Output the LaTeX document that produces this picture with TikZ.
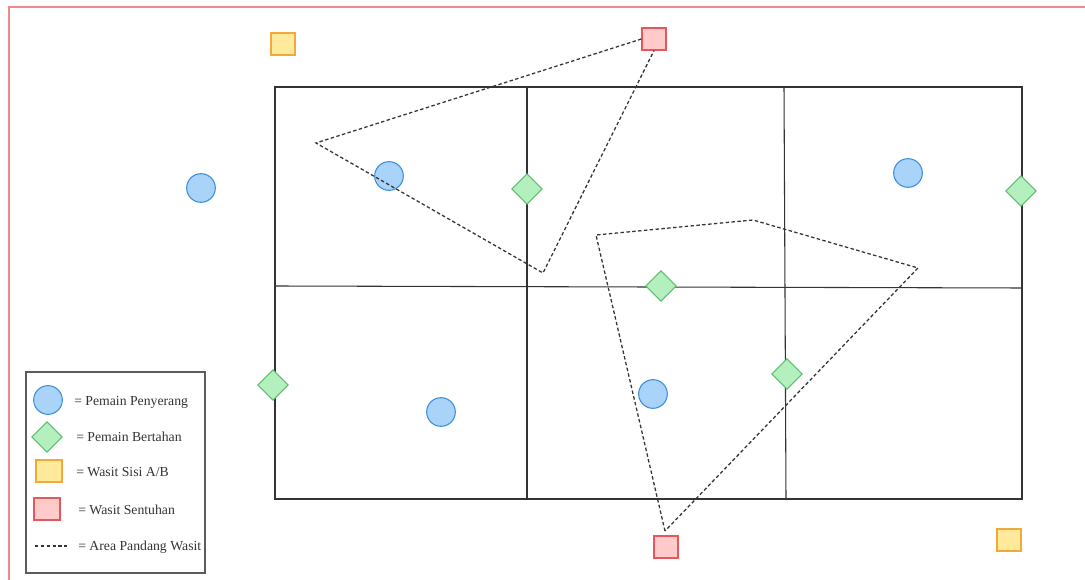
\documentclass[tikz,border=0pt]{standalone}
\usepackage{fontspec}
\setmainfont{Liberation Serif}
\usepackage{xcolor}
\definecolor{BlueFill}{HTML}{A9D3F8}
\definecolor{BlueLine}{HTML}{3B8EDB}
\definecolor{GreenFill}{HTML}{B4F0BE}
\definecolor{GreenLine}{HTML}{5BBE6A}
\definecolor{YellowFill}{HTML}{FFE99B}
\definecolor{YellowLine}{HTML}{F5A83A}
\definecolor{RedFill}{HTML}{FFCACA}
\definecolor{RedLine}{HTML}{E8555A}
\definecolor{Frame}{HTML}{F08A8A}
\definecolor{Dark}{HTML}{333333}
\usetikzlibrary{shapes.geometric}
\tikzset{
  attacker/.style={circle, fill=BlueFill, draw=BlueLine, line width=0.8pt,
    minimum size=21.5pt, inner sep=0pt},
  defender/.style={diamond, aspect=1, fill=GreenFill, draw=GreenLine, line width=0.8pt,
    minimum size=23pt, inner sep=0pt},
  sideRef/.style={rectangle, fill=YellowFill, draw=YellowLine, line width=0.9pt,
    minimum width=18pt, minimum height=16.5pt, inner sep=0pt},
  touchRef/.style={rectangle, fill=RedFill, draw=RedLine, line width=0.9pt,
    minimum width=18pt, minimum height=16.5pt, inner sep=0pt},
  field/.style={line width=0.8pt, color=Dark},
  view/.style={line width=0.95pt, color=Dark, dash pattern=on 2.6pt off 1.8pt},
  legendText/.style={anchor=west, font=\fontsize{10.3}{12}\selectfont, text=Dark, inner sep=0pt},
}

\begin{document}
\begin{tikzpicture}[x=0.75pt, y=-0.75pt]
\useasboundingbox (0,0) rectangle (1085,580);

% outer frame
\draw[Frame, line width=1.3pt] (9,590) -- (9,7) -- (1095,7);

% field
\draw[field] (275,87) rectangle (1022,499);
\draw[field] (275,286) -- (1022,288);
\draw[field] (527,87) -- (527,499);
\draw[field] (784,87) -- (786,499);

% players
\node[attacker] (a1) at (201,188) {};
\node[attacker] (a2) at (389,176) {};
\node[attacker] (a3) at (908,173) {};
\node[attacker] (a4) at (441,412) {};
\node[attacker] (a5) at (653,394) {};

\node[defender] (d1) at (527,189) {};
\node[defender] (d2) at (1021,191) {};
\node[defender] (d3) at (661,286) {};
\node[defender] (d4) at (273,385) {};
\node[defender] (d5) at (787,374) {};

% referees
\node[sideRef] (s1) at (283,44) {};
\node[sideRef] (s2) at (1009,540) {};
\node[touchRef] (t1) at (654,39) {};
\node[touchRef] (t2) at (666,547) {};

% view areas
\coordinate (v1a) at (316,143);
\coordinate (v1b) at (543,273);
\draw[view] (t1.west) -- (v1a) -- (v1b) -- (t1.south);

\coordinate (v2a) at (596,235);
\coordinate (v2b) at (753,220);
\coordinate (v2c) at (918,268);
\coordinate (v2d) at (665,531);
\draw[view] (v2d) -- (v2a) -- (v2b) -- (v2c) -- (v2d);

% Legend
\draw[line width=0.8pt, color=Dark!80] (26,372) rectangle (205,573);
\node[attacker] (la) at (48,400) {};
\node[defender] (ld) at (47,437) {};
\node[sideRef, minimum width=19.5pt] (ls) at (49,471) {};
\node[touchRef, minimum width=19.5pt] (lt) at (47,509) {};
\coordinate (lv1) at (35,546);
\coordinate (lv2) at (67,546);
\draw[view] (lv1) -- (lv2);

\node[legendText] (ta) at (74,402) {= Pemain Penyerang};
\node[legendText] (td) at (76,437) {= Pemain Bertahan};
\node[legendText] (ts) at (76,472) {= Wasit Sisi A/B};
\node[legendText] (tt) at (78,510) {= Wasit Sentuhan};
\node[legendText] (tv) at (78,547) {= Area Pandang Wasit};

\end{tikzpicture}
\end{document}
